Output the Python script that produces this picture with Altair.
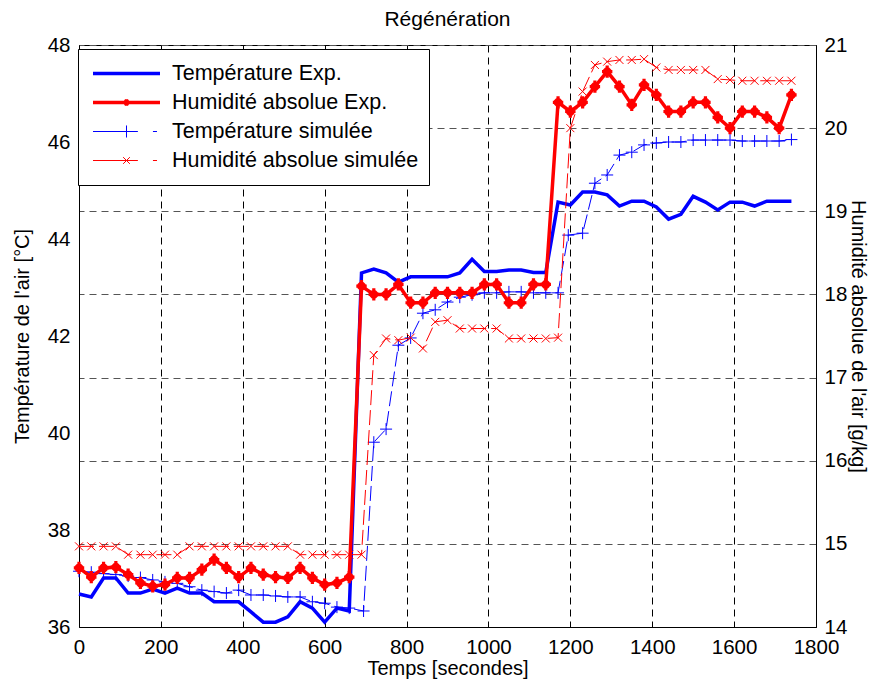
import altair as alt
import pandas as pd

# ---------------- data ----------------
time_exp = [0, 30, 60, 90, 120, 150, 180, 210, 240, 270, 300, 330, 360, 390, 420, 450,
            480, 510, 540, 570, 600, 630, 660, 690, 720, 750, 780, 810, 840, 870, 900,
            930, 960, 990, 1020, 1050, 1080, 1110, 1140, 1170, 1200, 1230, 1260, 1290,
            1320, 1350, 1380, 1410, 1440, 1470, 1500, 1530, 1560, 1590, 1620, 1650, 1680,
            1710, 1740]
temp_exp = [36.68, 36.62, 37.01, 37.01, 36.70, 36.70, 36.78, 36.70, 36.80, 36.70, 36.70,
            36.52, 36.52, 36.52, 36.31, 36.10, 36.10, 36.21, 36.52, 36.39, 36.10, 36.39,
            36.33, 43.30, 43.38, 43.30, 43.11, 43.22, 43.22, 43.22, 43.22, 43.30, 43.58,
            43.33, 43.33, 43.36, 43.36, 43.31, 43.31, 44.76, 44.70, 44.97, 44.97, 44.91,
            44.68, 44.78, 44.78, 44.66, 44.41, 44.51, 44.88, 44.76, 44.60, 44.76, 44.76,
            44.68, 44.78, 44.78, 44.78]
hum_exp = [14.71, 14.60, 14.71, 14.72, 14.63, 14.53, 14.49, 14.51, 14.59, 14.59, 14.69,
           14.81, 14.71, 14.60, 14.71, 14.63, 14.60, 14.59, 14.71, 14.59, 14.51, 14.53,
           14.60, 18.10, 18.00, 18.00, 18.12, 17.90, 17.90, 18.02, 18.02, 18.02, 18.02,
           18.12, 18.12, 17.90, 17.90, 18.12, 18.12, 20.31, 20.20, 20.31, 20.50, 20.68,
           20.50, 20.28, 20.52, 20.40, 20.20, 20.20, 20.31, 20.31, 20.13, 20.00, 20.20,
           20.20, 20.13, 20.00, 20.40]

time_sim_temp = [0, 30, 60, 90, 120, 150, 180, 210, 240, 270, 300, 330, 360, 390, 420,
                 450, 480, 510, 540, 570, 600, 630, 660, 695, 720, 750, 780, 810, 840, 870,
                 900, 930, 960, 990, 1020, 1050, 1080, 1110, 1140, 1170, 1195, 1230, 1260,
                 1290, 1320, 1350, 1380, 1410, 1440, 1470, 1500, 1530, 1560, 1590, 1620,
                 1650, 1680, 1710, 1740]
temp_sim = [37.15, 37.13, 37.10, 37.08, 37.05, 37.02, 36.97, 36.93, 36.90, 36.83, 36.76,
            36.73, 36.70, 36.76, 36.66, 36.66, 36.64, 36.62, 36.62, 36.52, 36.49, 36.41,
            36.39, 36.33, 39.81, 40.08, 41.81, 41.96, 42.47, 42.54, 42.70, 42.80, 42.85,
            42.89, 42.89, 42.91, 42.91, 42.89, 42.89, 42.89, 44.08, 44.12, 45.15, 45.32,
            45.73, 45.79, 45.94, 45.98, 46.00, 46.00, 46.04, 46.04, 46.04, 46.04, 46.02,
            46.02, 46.02, 46.02, 46.05]

time_sim_hum = [0, 30, 60, 90, 120, 150, 180, 210, 240, 270, 300, 330, 360, 390, 420,
                450, 480, 510, 540, 570, 600, 630, 660, 690, 720, 750, 780, 810, 840, 870,
                900, 930, 960, 990, 1020, 1050, 1080, 1110, 1140, 1170, 1200, 1230, 1260,
                1290, 1320, 1350, 1380, 1410, 1440, 1470, 1500, 1530, 1560, 1590, 1620,
                1650, 1680, 1710, 1740]
hum_sim = [14.97, 14.97, 14.97, 14.97, 14.87, 14.87, 14.87, 14.87, 14.87, 14.97, 14.97,
           14.97, 14.97, 14.97, 14.97, 14.97, 14.97, 14.97, 14.87, 14.87, 14.87, 14.87,
           14.87, 14.87, 17.27, 17.47, 17.45, 17.48, 17.35, 17.67, 17.69, 17.59, 17.59,
           17.59, 17.59, 17.47, 17.47, 17.47, 17.47, 17.48, 20.00, 20.44, 20.76, 20.80,
           20.82, 20.82, 20.83, 20.73, 20.70, 20.70, 20.70, 20.70, 20.59, 20.58, 20.57,
           20.57, 20.57, 20.57, 20.57]

series_labels = ["Température Exp.", "Humidité absolue Exp.",
                 "Température simulée", "Humidité absolue simulée"]

x_ticks = [0, 200, 400, 600, 800, 1000, 1200, 1400, 1600, 1800]
temp_ticks = [36, 38, 40, 42, 44, 46, 48]
hum_ticks = [14, 15, 16, 17, 18, 19, 20, 21]

# ---------------- styling ----------------
FONT = "Liberation Sans"
BLUE = "#0000ff"
RED = "#ff0000"

PLUS = "M-1,0L1,0M0,-1L0,1"
CROSS = "M-1,-1L1,1M-1,1L1,-1"
STAR = "M-0.85,0L0.85,0M0,-1L0,1M-0.5,-0.5L0.5,0.5M-0.5,0.5L0.5,-0.5"

legend_shapes = [
    "M-1,0L1,0",
    "M-1,0L1,0M-0.09,0L0.09,0M0,-0.1L0,0.1M-0.065,-0.065L0.065,0.065M-0.065,0.065L0.065,-0.065",
    "M-1,0L0.34,0M0.79,0L0.91,0M0,-0.18L0,0.18",
    "M-1,0L0.34,0M0.79,0L0.91,0M-0.1,-0.1L0.1,0.1M-0.1,0.1L0.1,-0.1",
]
legend_colors = [BLUE, RED, BLUE, RED]
legend_widths = [3.5, 3.5, 1, 1]

df_te = pd.DataFrame({"t": time_exp, "v": temp_exp})
df_he = pd.DataFrame({"t": time_exp, "v": hum_exp})
df_ts = pd.DataFrame({"t": time_sim_temp, "v": temp_sim})
df_hs = pd.DataFrame({"t": time_sim_hum, "v": hum_sim})
df_leg = pd.DataFrame({"series": series_labels})


def xenc():
    return alt.X(
        "t:Q",
        scale=alt.Scale(domain=[0, 1800], nice=False, zero=False),
        axis=alt.Axis(values=x_ticks, title="Temps [secondes]", grid=True, format="d",
                      gridColor="black", gridDash=[7, 5], gridWidth=1, gridOpacity=1,
                      ticks=False, labelPadding=10, titlePadding=1, labelFlush=False),
    )


def ytemp():
    return alt.Y(
        "v:Q",
        scale=alt.Scale(domain=[36, 48], nice=False, zero=False),
        axis=alt.Axis(orient="left", values=temp_ticks, grid=False, ticks=False,
                      title="Température de l'air [°C]", labelPadding=9, titlePadding=15),
    )


def yhum():
    return alt.Y(
        "v:Q",
        scale=alt.Scale(domain=[14, 21], nice=False, zero=False),
        axis=alt.Axis(orient="right", values=hum_ticks, grid=True, gridColor="#555555",
                      gridDash=[7, 5], gridWidth=1, gridOpacity=1, ticks=False,
                      title="Humidité absolue de l'air [g/kg]", labelPadding=8,
                      titlePadding=1),
    )


t_exp_line = alt.Chart(df_te).mark_line(color=BLUE, strokeWidth=3.5).encode(x=xenc(), y=ytemp())
t_sim_line = alt.Chart(df_ts).mark_line(color=BLUE, strokeWidth=1, strokeDash=[15, 5]).encode(
    x=xenc(), y=ytemp())
t_sim_pts = alt.Chart(df_ts).mark_point(shape=PLUS, size=144, color=BLUE, strokeWidth=1,
                                        opacity=1, filled=False).encode(x=xenc(), y=ytemp())

h_exp_line = alt.Chart(df_he).mark_line(color=RED, strokeWidth=3.5).encode(x=xenc(), y=yhum())
h_exp_pts = alt.Chart(df_he).mark_point(shape=STAR, size=150, color=RED, strokeWidth=3.2,
                                        opacity=1, filled=False).encode(x=xenc(), y=yhum())
h_sim_line = alt.Chart(df_hs).mark_line(color=RED, strokeWidth=1, strokeDash=[15, 5]).encode(
    x=xenc(), y=yhum())
h_sim_pts = alt.Chart(df_hs).mark_point(shape=CROSS, size=64, color=RED, strokeWidth=1,
                                        opacity=1, filled=False).encode(x=xenc(), y=yhum())

leg = alt.Legend(
    title=None, orient="none", legendX=-1, legendY=4, direction="vertical",
    symbolSize=4489, clipHeight=29, symbolOffset=3, labelOffset=10, padding=10,
    rowPadding=0, strokeColor="black", fillColor="white", labelFont=FONT,
    labelFontSize=21.5, labelColor="black", labelLimit=400,
)

legend_layer = alt.Chart(df_leg).transform_filter("false").mark_point(
    opacity=1, filled=False).encode(
    color=alt.Color("series:N", scale=alt.Scale(domain=series_labels, range=legend_colors),
                    legend=leg),
    shape=alt.Shape("series:N", scale=alt.Scale(domain=series_labels, range=legend_shapes),
                    legend=leg),
    strokeWidth=alt.StrokeWidth("series:N",
                                scale=alt.Scale(type="ordinal", domain=series_labels,
                                                range=legend_widths),
                                legend=leg),
)

temp_group = alt.layer(t_exp_line, t_sim_line, t_sim_pts)
hum_group = alt.layer(h_exp_line, h_exp_pts, h_sim_line, h_sim_pts, legend_layer)

chart = (
    alt.layer(temp_group, hum_group)
    .resolve_scale(y="independent")
    .properties(
        width=737, height=582,
        title=alt.TitleParams("Régénération", font=FONT, fontSize=21, fontWeight="normal",
                              color="black", offset=5),
        padding={"left": 71, "top": 37, "right": 53, "bottom": 53},
        autosize=alt.AutoSizeParams(type="none"),
        background="white",
    )
    .configure_view(stroke="black", strokeWidth=1)
    .configure_axis(labelFont=FONT, labelFontSize=20.5, labelColor="black",
                    titleFont=FONT, titleFontSize=20, titleFontWeight="normal",
                    titleColor="black", domainColor="black", domainWidth=1)
)

chart.save("out.html", embed_options={"renderer": "svg", "actions": False})
